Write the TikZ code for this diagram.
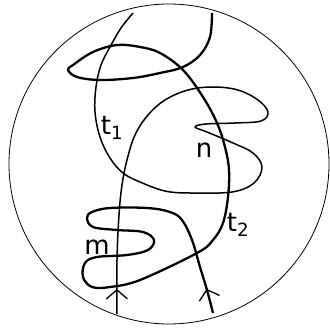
\documentclass[tikz,border=0pt]{standalone}
\usepackage{fontspec}
\setmainfont{DejaVu Sans}
\usetikzlibrary{arrows.meta,decorations.markings}

\begin{document}
\begin{tikzpicture}[x=1pt,y=-1pt,
  bdry/.style={draw=black,line width=0.8pt},
  tone/.style={draw=black,line width=1.5pt,line join=round},
  ttwo/.style={draw=black,line width=2.3pt,line join=round},
  upmark/.style={postaction={decorate},decoration={markings,
    mark=at position #1 with {\arrow{Straight Barb[length=9pt,width=21pt,line width=1.3pt]}}}},
  lbl/.style={font=\fontsize{26}{26}\selectfont,inner sep=0pt}]
  \useasboundingbox (0,0) rectangle (330,329);
  % boundary disc
  \draw[bdry] (169,164) circle (160);
  % strand t1
  \draw[tone,upmark=25pt] plot[smooth,tension=0.6] coordinates {
    (117,314) (117,260) (119,215) (122,185) (127,160) (135,135) (148,115)
    (165,100) (188,90) (213,87) (238,90) (258,100) (268,112) (261,121)
    (235,123) (206,124) (195,127) (207,132) (233,143) (253,153) (262,167)
    (254,183) (232,192) (190,193) (165,191) (140,182) (123,173) (110,158)
    (100,137) (95,112) (96,87) (101,65) (110,47) (121,28) (133,13)};
  % strand t2
  \draw[ttwo,upmark=25pt] plot[smooth,tension=0.6] coordinates {
    (213,313) (207,290) (200,267) (192,240) (182,220) (170,212) (147,208)
    (110,208) (92,212) (87,218) (93,227) (117,230) (143,232) (154,240)
    (148,250) (127,255) (97,257) (85,263) (83,277) (92,287) (110,287)
    (140,280) (197,253) (213,240) (223,223) (228,197) (229,170) (225,147)
    (217,123) (203,97) (183,70) (160,53) (140,47) (117,45) (93,52)
    (73,65) (68,70) (77,77) (100,80) (133,78) (160,73) (183,67)
    (200,55) (210,37) (212,13)};
  % labels
  \node[lbl] (lt1) at (112,128) {t\textsubscript{1}};
  \node[lbl] (ln) at (204,150) {n};
  \node[lbl] (lt2) at (238,225) {t\textsubscript{2}};
  \node[lbl] (lm) at (97,247) {m};
\end{tikzpicture}
\end{document}
